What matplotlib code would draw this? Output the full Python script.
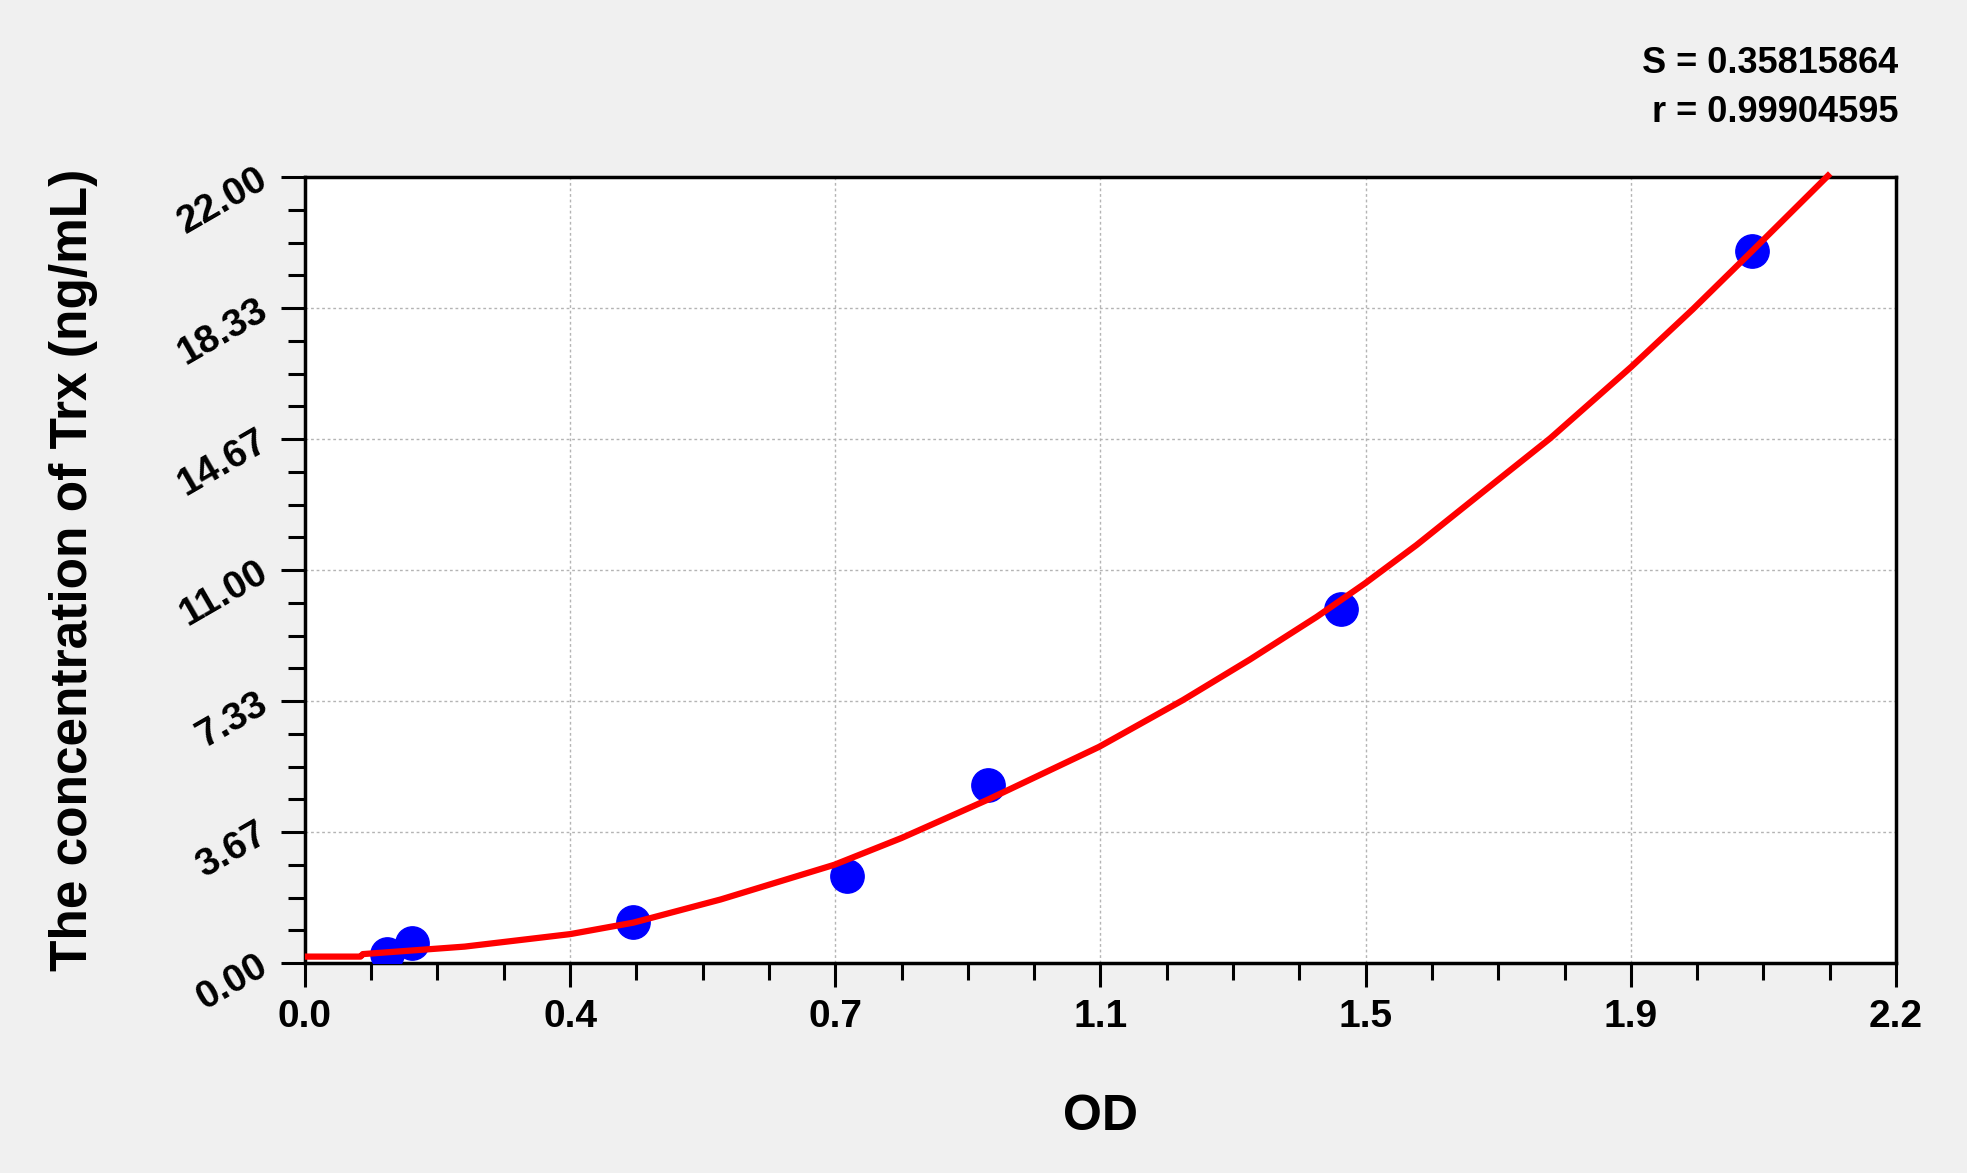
import numpy as np
import matplotlib
matplotlib.use('Agg')
import matplotlib.pyplot as plt
from matplotlib.ticker import AutoMinorLocator

plt.rcParams['font.family'] = ['Liberation Sans', 'DejaVu Sans']

# standard points
od = [0.113, 0.148, 0.453, 0.749, 0.945, 1.432, 2.001]
conc = [0.25, 0.55, 1.15, 2.43, 4.98, 9.92, 19.93]

# fitted curve
curve_od = [0.0, 0.077, 0.08, 0.221, 0.367, 0.454, 0.575, 0.732, 0.825, 0.945,
            1.098, 1.214, 1.307, 1.399, 1.466, 1.537, 1.629, 1.722,
            1.834, 1.919, 2.000, 2.109]
curve_conc = [0.18, 0.18, 0.25, 0.46, 0.81, 1.13, 1.78, 2.75, 3.50, 4.58,
              6.05, 7.36, 8.50, 9.69, 10.63, 11.70, 13.19, 14.69,
              16.69, 18.30, 19.91, 22.10]

x_ticks = [0.0, 2.2]
x_labels = ['0.0', '0.4', '0.7', '1.1', '1.5', '1.9', '2.2']
y_ticks = [0.0, 22.0]
y_labels = ['0.00', '3.67', '7.33', '11.00', '14.67', '18.33', '22.00']

stats = ['S = 0.35815864', 'r = 0.99904595']

fig = plt.figure(figsize=(19.67, 11.73), dpi=100)
fig.patch.set_facecolor('#f0f0f0')
ax = fig.add_axes([0.155, 0.179, 0.8089, 0.670])
ax.set_facecolor('white')

ax.plot(od, conc, 'o', color='#0000ff', markersize=24, zorder=3)
ax.plot(curve_od, curve_conc, '-', color='#ff0000', lw=4.5, zorder=4,
        clip_on=False, solid_capstyle='butt', solid_joinstyle='round')

ax.set_xlim(x_ticks[0], x_ticks[1])
ax.set_ylim(y_ticks[0], y_ticks[1])
ax.set_xticks(np.linspace(x_ticks[0], x_ticks[1], len(x_labels)))
ax.set_xticklabels(x_labels)
ax.set_yticks(np.linspace(y_ticks[0], y_ticks[1], len(y_labels)))
ax.set_yticklabels(y_labels)
ax.xaxis.set_minor_locator(AutoMinorLocator(4))
ax.yaxis.set_minor_locator(AutoMinorLocator(4))

ax.tick_params(which='major', length=17, width=2.2, direction='out')
ax.tick_params(which='minor', length=12, width=2.2, direction='out')
ax.tick_params(axis='x', which='major', pad=9)
ax.tick_params(axis='y', which='major', pad=12)
for lab in ax.get_xticklabels():
    lab.set_fontweight('bold')
    lab.set_fontsize(28)
for lab in ax.get_yticklabels():
    lab.set_fontweight('bold')
    lab.set_fontsize(28)
    lab.set_rotation(30)
    lab.set_rotation_mode('anchor')
    lab.set_ha('right')
    lab.set_va('center')

for sp in ax.spines.values():
    sp.set_linewidth(2.5)
    sp.set_color('black')

ax.grid(True, which='major', color='#b4b4b4', linestyle=(0, (2, 2)), lw=1)
ax.set_axisbelow(True)

ax.set_xlabel('OD', fontsize=36, fontweight='bold', va='top')
ax.xaxis.set_label_coords(0.5, -0.167)
ax.set_ylabel('The concentration of Trx (ng/mL)', fontsize=37, fontweight='bold')
ax.yaxis.set_label_coords(-0.130, 0.5)

fig.text(0.965, 0.946, stats[0], ha='right', va='center', fontsize=26,
         fontweight='bold')
fig.text(0.965, 0.904, stats[1], ha='right', va='center', fontsize=26,
         fontweight='bold')

fig.savefig('out.png', dpi=100, facecolor=fig.get_facecolor())
